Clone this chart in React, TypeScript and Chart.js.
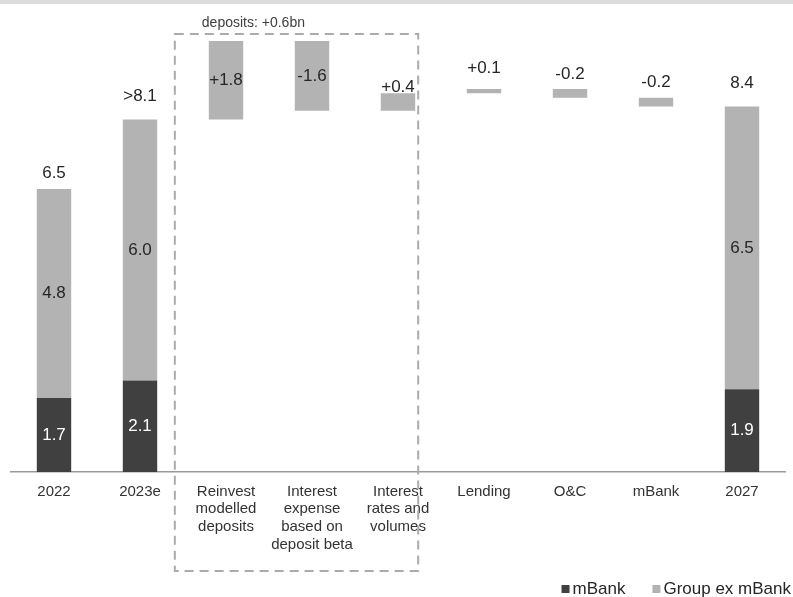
import React, { useEffect, useRef } from "react";
import { Chart, registerables } from "chart.js";

Chart.register(...registerables);

// ---------- data ----------
const categories: string[][] = [
  ["2022"],
  ["2023e"],
  ["Reinvest", "modelled", "deposits"],
  ["Interest", "expense", "based on", "deposit beta"],
  ["Interest", "rates and", "volumes"],
  ["Lending"],
  ["O&C"],
  ["mBank"],
  ["2027"],
];
const mBankValues: (number | null)[] = [1.7, 2.1, null, null, null, null, null, null, 1.9];
const groupExValues: (number | null)[] = [4.8, 6.0, null, null, null, null, null, null, 6.5];
const bridgeStart = 8.1;
const bridgeChanges: (number | null)[] = [null, null, 1.8, -1.6, 0.4, 0.1, -0.2, -0.2, null];
const totalLabels: string[] = ["6.5", ">8.1", "", "", "", "", "", "", "8.4"];
const changeLabels: string[] = ["", "", "+1.8", "-1.6", "+0.4", "+0.1", "-0.2", "-0.2", ""];
const boxNote = "deposits: +0.6bn";
const legendNames = ["mBank", "Group ex mBank"];

// ---------- style ----------
const DARK = "#404040";
const GRAY = "#b3b3b3";
const FONT = "'Liberation Sans', Arial, sans-serif";
const changeInside = [false, false, true, true, false, false, false, false, false];
const labelLift = [16, 23, 0, 0, 6, 21, 15, 15, 23];

// floating bars built from running total
const bridgeBars: ([number, number] | null)[] = (() => {
  let run = bridgeStart;
  return bridgeChanges.map((c) => {
    if (c === null) return null;
    const seg: [number, number] = [run, run + c];
    run += c;
    return seg;
  });
})();

const decorPlugin = {
  id: "decor",
  beforeDraw(chart: any) {
    const { ctx, width } = chart;
    ctx.save();
    ctx.fillStyle = "#ffffff";
    ctx.fillRect(0, 0, width, chart.height);
    ctx.fillStyle = "#dcdcdc";
    ctx.fillRect(0, 0, width, 4);
    ctx.restore();
  },
  afterDatasetsDraw(chart: any) {
    const { ctx } = chart;
    const mMeta = chart.getDatasetMeta(0);
    const gMeta = chart.getDatasetMeta(1);
    const cMeta = chart.getDatasetMeta(2);
    ctx.save();
    ctx.font = `17px ${FONT}`;
    ctx.textAlign = "center";
    ctx.textBaseline = "middle";
    for (let i = 0; i < categories.length; i++) {
      const m = mMeta.data[i];
      const g = gMeta.data[i];
      if (mBankValues[i] !== null && m) {
        ctx.fillStyle = "#ffffff";
        ctx.fillText(mBankValues[i]!.toFixed(1), m.x, (m.y + m.base) / 2);
      }
      if (groupExValues[i] !== null && g) {
        ctx.fillStyle = "#262626";
        ctx.fillText(groupExValues[i]!.toFixed(1), g.x, (g.y + g.base) / 2);
        if (totalLabels[i]) ctx.fillText(totalLabels[i], g.x, g.y - labelLift[i]);
      }
      const c = cMeta.data[i];
      if (bridgeBars[i] && c && changeLabels[i]) {
        const top = Math.min(c.y, c.base);
        const bot = Math.max(c.y, c.base);
        ctx.fillStyle = "#262626";
        const y = changeInside[i] ? (top + bot) / 2 : top - labelLift[i];
        ctx.fillText(changeLabels[i], c.x, y);
      }
    }
    ctx.restore();
  },
  afterDraw(chart: any) {
    const { ctx } = chart;
    const xs = chart.scales.x;
    const step = xs.getPixelForValue(1) - xs.getPixelForValue(0);
    const left = xs.getPixelForValue(2) - 0.595 * step;
    const right = xs.getPixelForValue(4) + 0.235 * step;
    const top = 34;
    const bottom = 571;
    ctx.save();
    ctx.strokeStyle = "#ababab";
    ctx.lineWidth = 2;
    ctx.setLineDash([9, 6]);
    ctx.strokeRect(left, top, right - left, bottom - top);
    ctx.setLineDash([]);
    ctx.fillStyle = "#404040";
    ctx.font = `14px ${FONT}`;
    ctx.textAlign = "left";
    ctx.textBaseline = "middle";
    ctx.fillText(boxNote, left + 27, 23);

    // legend (right aligned)
    ctx.font = `17px ${FONT}`;
    const colors = [DARK, GRAY];
    let x = 791;
    const y = 589;
    const items = legendNames.map((n, i) => ({ n, c: colors[i], w: ctx.measureText(n).width }));
    for (let i = items.length - 1; i >= 0; i--) {
      const it = items[i];
      const tx = x - it.w;
      ctx.fillStyle = "#262626";
      ctx.fillText(it.n, tx, y);
      ctx.fillStyle = it.c;
      ctx.fillRect(tx - 11, y - 4, 8, 8);
      x = tx - 11 - 27;
    }
    ctx.restore();
  },
};

export default function App() {
  const ref = useRef<HTMLCanvasElement | null>(null);
  useEffect(() => {
    if (!ref.current) return;
    const chart = new Chart(ref.current, {
      type: "bar",
      data: {
        labels: categories,
        datasets: [
          {
            label: legendNames[0],
            data: mBankValues,
            backgroundColor: DARK,
            stack: "total",
            barPercentage: 0.4,
            categoryPercentage: 1,
          },
          {
            label: legendNames[1],
            data: groupExValues,
            backgroundColor: GRAY,
            stack: "total",
            barPercentage: 0.4,
            categoryPercentage: 1,
          },
          {
            label: "bridge",
            data: bridgeBars as any,
            backgroundColor: GRAY,
            stack: "bridge",
            grouped: false,
            barPercentage: 0.4,
            categoryPercentage: 1,
          },
        ],
      },
      options: {
        responsive: false,
        animation: false,
        devicePixelRatio: 1,
        layout: { padding: { left: 11, right: 8, top: 15, bottom: 0 } },
        plugins: {
          legend: { display: false },
          tooltip: { enabled: false },
        },
        scales: {
          x: {
            stacked: true,
            grid: { display: false, drawTicks: false },
            border: { display: true, color: "#9a9a9a", width: 1.5 },
            ticks: {
              color: "#333333",
              font: { family: FONT, size: 15, lineHeight: 1.17 },
              padding: 11,
              maxRotation: 0,
              autoSkip: false,
            },
            afterFit: (s: any) => {
              s.height = 125;
            },
          },
          y: {
            display: false,
            stacked: true,
            min: 0,
            max: 10.5,
          },
        },
      },
      plugins: [decorPlugin],
    });
    return () => chart.destroy();
  }, []);
  return (
    <div style={{ position: "absolute", left: 0, top: 0, width: 793, height: 597 }}>
      <canvas ref={ref} width={793} height={597} style={{ display: "block" }} />
    </div>
  );
}
